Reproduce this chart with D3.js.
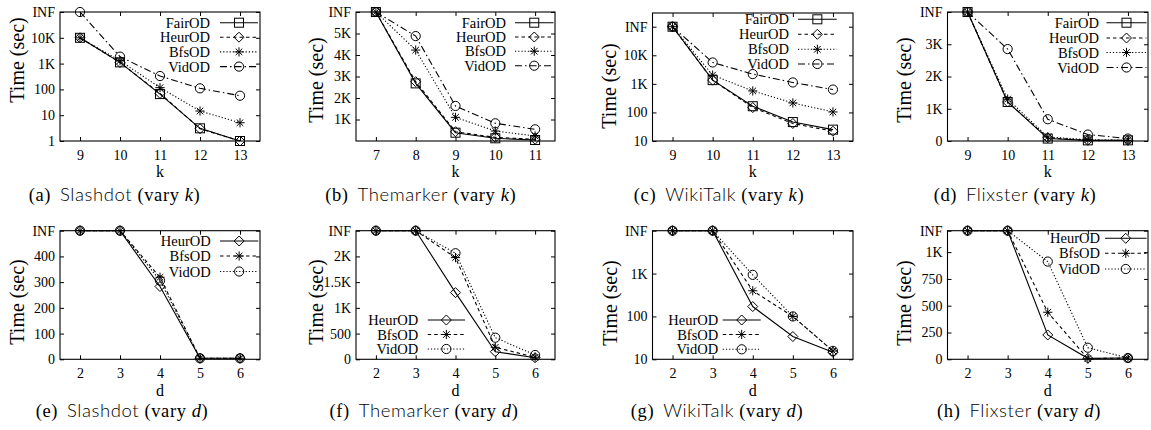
<!DOCTYPE html>
<html><head><meta charset="utf-8">
<script src="https://cdn.jsdelivr.net/npm/d3@7"></script>
<style>body{margin:0;background:#fff}svg{display:block}</style>
</head><body>
<svg id="chart" width="1151" height="430"></svg>
<script>
const INF = Infinity;

// ---------- data ----------
const kSlashdot = [9, 10, 11, 12, 13];
const kThemarker = [7, 8, 9, 10, 11];
const kWikiTalk = [9, 10, 11, 12, 13];
const kFlixster = [9, 10, 11, 12, 13];
const dValues = [2, 3, 4, 5, 6];

// (a) Slashdot vary k
const aFairOD = [10000, 1120, 66, 3.1, 1];
const aHeurOD = [10000, 1100, 70, 3.0, 1];
const aBfsOD  = [10000, 1300, 117, 14.5, 5.1];
const aVidOD  = [INF, 1860, 330, 110, 57];
// (b) Themarker vary k
const bFairOD = [INF, 2680, 386, 125, 47];
const bHeurOD = [INF, 2760, 433, 170, 80];
const bBfsOD  = [INF, 4230, 1100, 465, 233];
const bVidOD  = [INF, 4880, 1630, 823, 544];
// (c) WikiTalk vary k
const cFairOD = [INF, 1350, 165, 46, 25];
const cHeurOD = [INF, 1350, 148, 41, 22];
const cBfsOD  = [INF, 2030, 565, 215, 104];
const cVidOD  = [INF, 5600, 2200, 1120, 633];
// (d) Flixster vary k
const dFairOD = [INF, 1210, 75, 20, 20];
const dHeurOD = [INF, 1210, 100, 20, 20];
const dBfsOD  = [INF, 1300, 125, 40, 20];
const dVidOD  = [INF, 2850, 675, 200, 75];
// (e) Slashdot vary d
const eHeurOD = [INF, INF, 283, 4, 4];
const eBfsOD  = [INF, INF, 319, 4, 4];
const eVidOD  = [INF, INF, 306, 4, 4];
// (f) Themarker vary d
const fHeurOD = [INF, INF, 1296, 148, 31];
const fBfsOD  = [INF, INF, 1977, 233, 40];
const fVidOD  = [INF, INF, 2062, 420, 84];
// (g) WikiTalk vary d
const gHeurOD = [INF, INF, 170, 34, 14.6];
const gBfsOD  = [INF, INF, 397, 100, 15.6];
const gVidOD  = [INF, INF, 933, 100, 15.7];
// (h) Flixster vary d
const hHeurOD = [INF, INF, 227, 9, 12];
const hBfsOD  = [INF, INF, 439, 6, 12];
const hVidOD  = [INF, INF, 912, 108, 12];

// tick values and labels
const aTicks = [1, 10, 100, 1000, 10000, 100000], aTickLabels = ["1", "10", "100", "1K", "10K", "INF"];
const bTicks = [1000, 2000, 3000, 4000, 5000, 6000], bTickLabels = ["1K", "2K", "3K", "4K", "5K", "INF"];
const cTicks = [10, 100, 1000, 10000, 100000], cTickLabels = ["10", "100", "1K", "10K", "INF"];
const dTicks = [0, 1000, 2000, 3000, 4000], dTickLabels = ["0", "1K", "2K", "3K", "INF"];
const eTicks = [0, 100, 200, 300, 400, 500], eTickLabels = ["0", "100", "200", "300", "400", "INF"];
const fTicks = [0, 500, 1000, 1500, 2000, 2500], fTickLabels = ["0", "500", "1K", "1.5K", "2K", "INF"];
const gTicks = [10, 100, 1000, 10000], gTickLabels = ["10", "100", "1K", "INF"];
const hTicks = [0, 250, 500, 750, 1000, 1200], hTickLabels = ["0", "250", "500", "750", "1K", "INF"];

const topNames = ["FairOD", "HeurOD", "BfsOD", "VidOD"];
const botNames = ["HeurOD", "BfsOD", "VidOD"];

// ---------- styles / layout ----------
const topStyle = {
  FairOD: {dash: null, marker: "square"},
  HeurOD: {dash: "3.5,3", marker: "diamond"},
  BfsOD:  {dash: "1.2,2", marker: "star"},
  VidOD:  {dash: "7,3,1.5,3", marker: "circle"}
};
const botStyle = {
  HeurOD: {dash: null, marker: "diamond"},
  BfsOD:  {dash: "3.5,3", marker: "star"},
  VidOD:  {dash: "1.2,2", marker: "circle"}
};

const colX = [[60, 260], [356, 555], [652.5, 853], [947.5, 1148]];
const topY = [12, 141], botY = [230.7, 359.3];

const panels = [
  {tag: "(a)", ds: "Slashdot", v: "k", xs: kSlashdot, names: topNames, series: [aFairOD, aHeurOD, aBfsOD, aVidOD],
   log: true, dom: [1, 1e5], inf: 1e5, ticks: aTicks, tl: aTickLabels, col: 0, row: 0,
   ylc: [17, 60], leg: {tx: 210, l1: 220, l2: 258, y: [22.7, 37.2, 51.9, 66.6]}, cap: 114.5},
  {tag: "(b)", ds: "Themarker", v: "k", xs: kThemarker, names: topNames, series: [bFairOD, bHeurOD, bBfsOD, bVidOD],
   log: false, dom: [0, 6000], inf: 6000, ticks: bTicks, tl: bTickLabels, col: 1, row: 0,
   ylc: [315.7, 80], leg: {tx: 506, l1: 515, l2: 553.5, y: [22.7, 37, 51.2, 65.7]}, cap: 420.7},
  {tag: "(c)", ds: "WikiTalk", v: "k", xs: kWikiTalk, names: topNames, series: [cFairOD, cHeurOD, cBfsOD, cVidOD],
   log: true, dom: [10, Math.pow(10, 5.48)], inf: 1e5, ticks: cTicks, tl: cTickLabels, col: 2, row: 0,
   ylc: [609, 86], leg: {tx: 789, l1: 798, l2: 836.7, y: [19.3, 34.3, 49.3, 64]}, cap: 719},
  {tag: "(d)", ds: "Flixster", v: "k", xs: kFlixster, names: topNames, series: [dFairOD, dHeurOD, dBfsOD, dVidOD],
   log: false, dom: [0, 4000], inf: 4000, ticks: dTicks, tl: dTickLabels, col: 3, row: 0,
   ylc: [904, 80], leg: {tx: 1099, l1: 1106.5, l2: 1146.5, y: [22.7, 38, 52.5, 67.5]}, cap: 1015},
  {tag: "(e)", ds: "Slashdot", v: "d", xs: dValues, names: botNames, series: [eHeurOD, eBfsOD, eVidOD],
   log: false, dom: [0, 500], inf: 500, ticks: eTicks, tl: eTickLabels, col: 0, row: 1,
   ylc: [17, 302], leg: {tx: 210.7, l1: 220, l2: 258.3, y: [241, 256, 271.5]}, cap: 122},
  {tag: "(f)", ds: "Themarker", v: "d", xs: dValues, names: botNames, series: [fHeurOD, fBfsOD, fVidOD],
   log: false, dom: [0, 2500], inf: 2500, ticks: fTicks, tl: fTickLabels, col: 1, row: 1,
   ylc: [315.7, 302], leg: {tx: 418.3, l1: 427.7, l2: 465, y: [320, 334.5, 349]}, cap: 424},
  {tag: "(g)", ds: "WikiTalk", v: "d", xs: dValues, names: botNames, series: [gHeurOD, gBfsOD, gVidOD],
   log: true, dom: [10, 10000], inf: 10000, ticks: gTicks, tl: gTickLabels, col: 2, row: 1,
   ylc: [610, 303], leg: {tx: 718.3, l1: 722.7, l2: 760.7, y: [320, 334.5, 349.3]}, cap: 717},
  {tag: "(h)", ds: "Flixster", v: "d", xs: dValues, names: botNames, series: [hHeurOD, hBfsOD, hVidOD],
   log: false, dom: [0, 1200], inf: 1200, ticks: hTicks, tl: hTickLabels, col: 3, row: 1,
   ylc: [904, 303], leg: {tx: 1100, l1: 1105, l2: 1146.5, y: [238.3, 253.3, 269]}, cap: 1019}
];

const SERIF = "'Liberation Serif','Times New Roman',serif";
const SANS = "Lato,'Liberation Sans',Arial,sans-serif";
const svg = d3.select("#chart");

function marker(g, type, cx, cy) {
  const s = g.append("g").attr("fill", "none").attr("stroke", "#000").attr("stroke-width", 1);
  if (type === "square") s.append("rect").attr("x", cx - 4.5).attr("y", cy - 4.5).attr("width", 9).attr("height", 9);
  else if (type === "diamond") s.append("path").attr("d", `M${cx},${cy - 5}L${cx + 5},${cy}L${cx},${cy + 5}L${cx - 5},${cy}Z`);
  else if (type === "circle") s.append("circle").attr("cx", cx).attr("cy", cy).attr("r", 4.6);
  else {
    const r = 4.6, q = 3.3;
    s.append("path").attr("d", `M${cx - r},${cy}H${cx + r}M${cx},${cy - r}V${cy + r}M${cx - q},${cy - q}L${cx + q},${cy + q}M${cx - q},${cy + q}L${cx + q},${cy - q}`);
  }
}

panels.forEach(p => {
  const [x0, x1] = colX[p.col];
  const [y0, y1] = p.row === 0 ? topY : botY;
  const top = (p.row === 0 && p.log && p.col === 2) ? 13 : y0;
  const x = d3.scaleLinear().domain([p.xs[0] - 0.5, p.xs[p.xs.length - 1] + 0.5]).range([x0, x1]);
  const y = (p.log ? d3.scaleLog() : d3.scaleLinear()).domain(p.dom).range([y1, top]);
  const styles = p.row === 0 ? topStyle : botStyle;
  const g = svg.append("g");

  // axes (inward ticks, mirrored)
  const fmt = (d) => p.tl[p.ticks.indexOf(d)];
  g.append("g").attr("transform", `translate(0,${y1})`)
    .call(d3.axisBottom(x).tickValues(p.xs).tickFormat(d3.format("d")).tickSizeInner(-4).tickSizeOuter(0).tickPadding(9));
  g.append("g").attr("transform", `translate(0,${top})`)
    .call(d3.axisTop(x).tickValues(p.xs).tickSizeInner(-4).tickSizeOuter(0).tickFormat(""));
  g.append("g").attr("transform", `translate(${x0},0)`)
    .call(d3.axisLeft(y).tickValues(p.ticks).tickFormat(fmt).tickSizeInner(-4).tickSizeOuter(0).tickPadding(5));
  g.append("g").attr("transform", `translate(${x1},0)`)
    .call(d3.axisRight(y).tickValues(p.ticks).tickSizeInner(-4).tickSizeOuter(0).tickFormat(""));
  g.selectAll(".domain").remove();
  g.selectAll(".tick line").attr("stroke", "#000");
  g.selectAll(".tick text").attr("font-family", SERIF).attr("font-size", 14).attr("fill", "#000");

  g.append("rect").attr("x", x0).attr("y", top).attr("width", x1 - x0).attr("height", y1 - top)
    .attr("fill", "none").attr("stroke", "#000").attr("stroke-width", 1.1);

  // series
  p.names.forEach((name, i) => {
    const st = styles[name];
    const pts = p.xs.map((xv, j) => ({x: xv, v: p.series[i][j] === INF ? p.inf : p.series[i][j]}));
    const line = d3.line().x(d => x(d.x)).y(d => y(d.v));
    g.append("path").datum(pts).attr("d", line).attr("fill", "none").attr("stroke", "#000")
      .attr("stroke-width", 1.1).attr("stroke-dasharray", st.dash);
    pts.forEach(d => marker(g, st.marker, x(d.x), y(d.v)));

    // legend
    const ly = p.leg.y[i];
    g.append("text").attr("x", p.leg.tx).attr("y", ly).attr("dy", "0.35em").attr("text-anchor", "end")
      .attr("font-family", SERIF).attr("font-size", 14.5).text(name);
    g.append("line").attr("x1", p.leg.l1).attr("x2", p.leg.l2).attr("y1", ly).attr("y2", ly)
      .attr("stroke", "#000").attr("stroke-width", 1.1).attr("stroke-dasharray", st.dash);
    marker(g, st.marker, (p.leg.l1 + p.leg.l2) / 2, ly);
  });

  // axis labels
  g.append("text").attr("x", (x0 + x1) / 2).attr("y", p.row === 0 ? 176.5 : 396).attr("text-anchor", "middle")
    .attr("font-family", SERIF).attr("font-size", 16).text(p.v);
  g.append("text").attr("transform", `translate(${p.ylc[0]},${p.ylc[1]}) rotate(-90)`).attr("text-anchor", "middle")
    .attr("dominant-baseline", "central").attr("font-family", SERIF).attr("font-size", 20).text("Time (sec)");

  // caption
  const cap = g.append("text").attr("x", p.cap).attr("y", p.row === 0 ? 200.5 : 416.5)
    .attr("text-anchor", "middle").attr("font-family", SERIF).attr("font-size", 18.5)
    .attr("font-weight", "normal").attr("letter-spacing", 0.6);
  cap.append("tspan").text(p.tag);
  cap.append("tspan").attr("font-family", SANS).attr("font-weight", 300).attr("dx", 9).text(p.ds);
  cap.append("tspan").attr("font-weight", "normal").text(" (vary ");
  cap.append("tspan").attr("font-weight", "normal").attr("font-style", "italic").text(p.v);
  cap.append("tspan").attr("font-weight", "normal").text(")");
});
</script>
</body></html>
